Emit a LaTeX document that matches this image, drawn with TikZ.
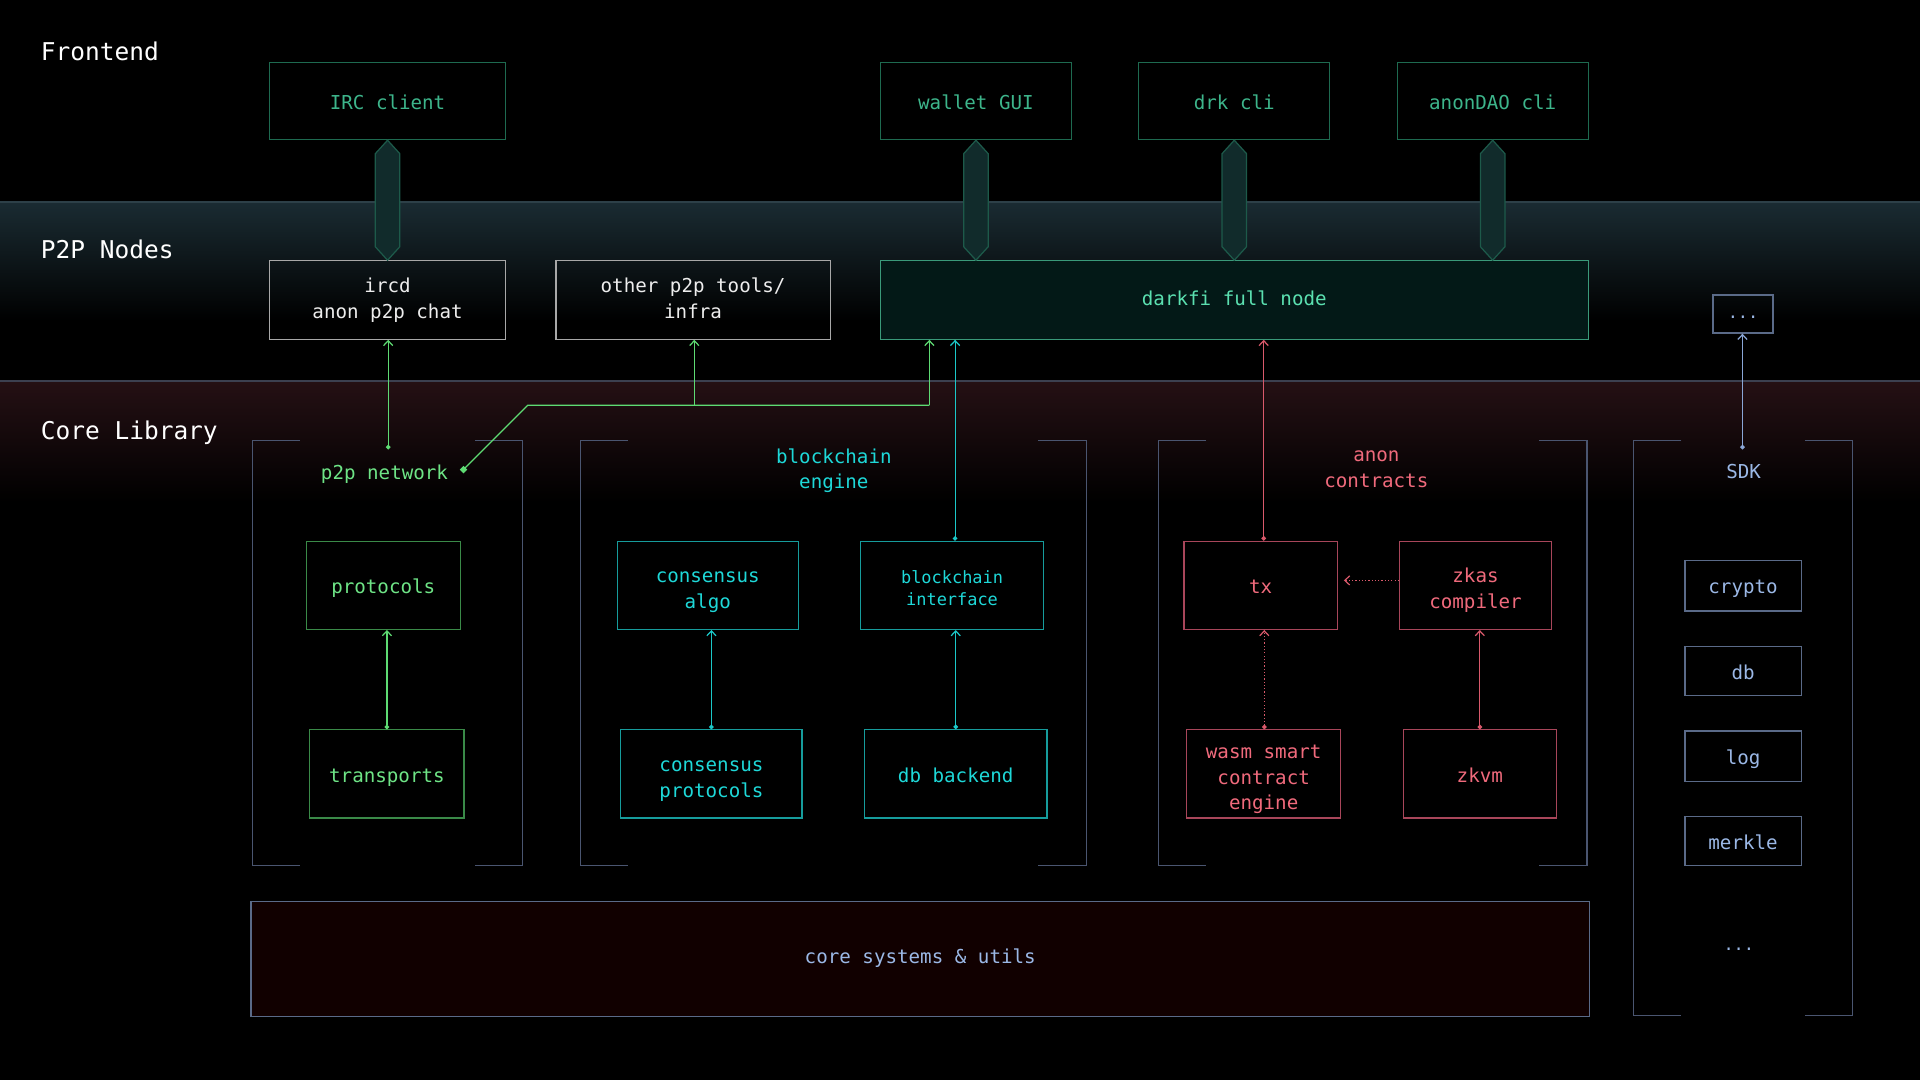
\documentclass[tikz,border=0pt]{standalone}
\usepackage{fontspec}
\setmainfont{DejaVu Sans Mono}
\usetikzlibrary{arrows.meta,calc}
\definecolor{feB}{HTML}{1E6A50}
\definecolor{feT}{HTML}{3DB58B}
\definecolor{grayB}{HTML}{A8A8A8}
\definecolor{whT}{HTML}{EDEDED}
\definecolor{dfB}{HTML}{3A9A7A}
\definecolor{dfF}{HTML}{031917}
\definecolor{dfT}{HTML}{5BE0B0}
\definecolor{gB}{HTML}{3A8A48}
\definecolor{gT}{HTML}{6EE486}
\definecolor{gL}{HTML}{5EDB73}
\definecolor{cB}{HTML}{169C9C}
\definecolor{cT}{HTML}{1ED8D8}
\definecolor{cL}{HTML}{1BC8C8}
\definecolor{rB}{HTML}{A8465A}
\definecolor{rT}{HTML}{F06A7C}
\definecolor{rL}{HTML}{D9596B}
\definecolor{bB}{HTML}{5A6A88}
\definecolor{bT}{HTML}{9BB8E6}
\definecolor{bL}{HTML}{8AA6D6}
\definecolor{frameC}{HTML}{4A5570}
\definecolor{hexF}{HTML}{112B2B}
\definecolor{hexB}{HTML}{1D5A4A}
\definecolor{coreF}{HTML}{110000}
\definecolor{bandA}{HTML}{1A2B32}
\definecolor{bandAL}{HTML}{2D4048}
\definecolor{bandB}{HTML}{251014}
\definecolor{bandBL}{HTML}{3C4050}
\newcommand\grp[4]{%
  \draw[frame] (#1+39,#2) -- (#1,#2) -- (#1,#4) -- (#1+39,#4);
  \draw[frame] (#3-39,#2) -- (#3,#2) -- (#3,#4) -- (#3-39,#4);}
\newcommand\hexconn[2]{%
  \filldraw[hexst] (#1.south) -- ++(10,11) -- ($(#1.south |- #2.north)+(10,-11)$) -- (#1.south |- #2.north) -- ++(-10,-11) -- ($(#1.south)+(-10,11)$) -- cycle;}
\newcommand\topfrac{0.95}
\newcommand\mtop[1]{\rule{0pt}{#1\baselineskip}}
\begin{document}
\begin{tikzpicture}[x=0.6pt,y=-0.6pt,
  wd/.style={minimum width=#1*0.6pt},
  ht/.style={minimum height=#1*0.6pt},
  tf/.code={\def\topfrac{#1}},
  struts/.style={execute at begin node={\rule{0pt}{\topfrac\baselineskip}}, execute at end node=\strut},
  base/.style={draw, line width=0.6pt, inner sep=0pt, align=center, struts,
    font=\fontsize{9.4}{12.6}\selectfont},
  small/.style={font=\fontsize{8.3}{10.8}\selectfont},
  fe/.style={base, draw=feB, text=feT},
  pn/.style={base, draw=grayB, text=whT},
  dfs/.style={base, draw=dfB, fill=dfF, text=dfT},
  gbox/.style={base, draw=gB, text=gT},
  cbox/.style={base, draw=cB, text=cT},
  rbox/.style={base, draw=rB, text=rT},
  bbox/.style={base, draw=bB, text=bT},
  lab/.style={font=\fontsize{9.4}{12.6}\selectfont, align=center, inner sep=0pt, struts},
  ttl/.style={font=\fontsize{12}{14}\selectfont, text=white, anchor=west, inner sep=0pt},
  frame/.style={draw=frameC, line width=0.6pt},
  conn/.style={line width=0.6pt, {Circle[length=2.2pt]}-{Straight Barb[length=2.4pt,width=4.5pt]}},
  tip/.style={line width=0.6pt, -{Straight Barb[length=2.4pt,width=4.5pt]}},
  hexst/.style={fill=hexF, draw=hexB, line width=0.6pt}]
\useasboundingbox (0,0) rectangle (1568,882);
\fill[black] (0,0) rectangle (1568,882);
% bands
\shade[top color=bandA, bottom color=black] (0,165) rectangle (1568,262);
\draw[bandAL, line width=1pt] (0,165) -- (1568,165);
\shade[top color=bandB, bottom color=black] (0,311) rectangle (1568,410);
\draw[bandBL, line width=1pt] (0,311) -- (1568,311);
% titles
\node[ttl] (tFe) at (33,42) {Frontend};
\node[ttl] (tP2P) at (33,204) {P2P Nodes};
\node[ttl] (tCore) at (33,353) {Core Library};
% frontend boxes
\node[fe, wd=193, ht=63] (irc) at (316.5,82.5) {IRC client};
\node[fe, wd=156, ht=63] (wal) at (797,82.5) {wallet GUI};
\node[fe, wd=156, ht=63] (drk) at (1008,82.5) {drk cli};
\node[fe, wd=156, ht=63] (dao) at (1219,82.5) {anonDAO cli};
% p2p nodes
\node[pn, wd=193, ht=64] (ircd) at (316.5,245) {\mtop{0.75}ircd\\anon p2p chat};
\node[pn, wd=224, ht=64] (oth) at (566,245) {\mtop{0.75}other p2p tools/\\infra};
\node[dfs, tf=0.76, wd=578, ht=64] (dfn) at (1008,245) {darkfi full node};
\node[bbox, small, tf=0.73, wd=49, ht=31] (etc) at (1423.5,256.5) {...};
% hex connectors
\hexconn{irc}{ircd}
\hexconn{wal}{dfn}
\hexconn{drk}{dfn}
\hexconn{dao}{dfn}
% groups
\grp{206}{360}{427}{707}
\grp{474}{360}{887}{707}
\grp{946}{360}{1296}{707}
\grp{1334}{360}{1513}{829}
% group labels
\node[lab, text=gT] (p2pl) at (314,385) {p2p network};
\node[lab, text=cT] (bcl) at (681,382) {\mtop{0.94}blockchain\\engine};
\node[lab, text=rT] (acl) at (1124,382) {\mtop{0.8}anon\\contracts};
\node[lab, text=bT] (sdkl) at (1424,384) {SDK};
% p2p boxes
\node[gbox, wd=126, ht=72] (proto) at (313,478) {protocols};
\node[gbox, wd=126, ht=72] (trans) at (316,632) {transports};
% blockchain boxes
\node[cbox, wd=148, ht=72] (calgo) at (578,478) {\mtop{1.1}consensus\\algo};
\node[cbox, small, wd=149, ht=72] (bint) at (777.5,478) {\mtop{1.1}blockchain\\interface};
\node[cbox, wd=148, ht=72] (cprot) at (581,632) {\mtop{1.1}consensus\\protocols};
\node[cbox, wd=149, ht=72] (dbb) at (780.5,632) {db backend};
% contracts boxes
\node[rbox, wd=125, ht=72] (tx) at (1029.5,478) {tx};
\node[rbox, wd=124, ht=72] (zkas) at (1205,478) {\mtop{1.1}zkas\\compiler};
\node[rbox, wd=126, ht=72] (wasm) at (1032,632) {\mtop{1.1}wasm smart\\contract\\engine};
\node[rbox, wd=125, ht=72] (zkvm) at (1208.5,632) {zkvm};
% sdk boxes
\node[bbox, tf=0.88, wd=95, ht=41] (crypto) at (1423.5,478.5) {crypto};
\node[bbox, wd=95, ht=40] (db) at (1423.5,548) {db};
\node[bbox, wd=95, ht=41] (log) at (1423.5,617.5) {log};
\node[bbox, wd=95, ht=40] (merkle) at (1423.5,687) {merkle};
\node[lab, small, text=bT] (sdkdots) at (1420,770) {...};
% core systems
\node[bbox, tf=0.57, fill=coreF, wd=1093, ht=94] (core) at (751.5,783) {core systems \& utils};
% connectors
\coordinate (pdot) at (317,367);
\coordinate (sq) at (377,385);
\coordinate (bend) at (431,331);
\coordinate (j1) at (567,331);
\coordinate (j2) at (759,331);
\coordinate (sdot) at (1423,367);
\draw[conn, gL] (pdot) -- (pdot |- ircd.south);
\draw[gL, line width=0.6pt, {Square[length=2.6pt]}-] (sq) -- (bend) -- (j2);
\draw[tip, gL] (j1) -- (j1 |- oth.south);
\draw[tip, gL] (j2) -- (j2 |- dfn.south);
\draw[conn, gL] (trans.north) -- (trans.north |- proto.south);
\draw[conn, cL] (cprot.north) -- (cprot.north |- calgo.south);
\draw[conn, cL] (dbb.north) -- (dbb.north |- bint.south);
\draw[conn, cL] ($(bint.north)+(2.5,0)$) -- ($(bint.north |- dfn.south)+(2.5,0)$);
\draw[conn, rL] ($(tx.north)+(2.5,0)$) -- ($(tx.north |- dfn.south)+(2.5,0)$);
\draw[tip, rL, densely dotted] ($(zkas.west)+(0,-4)$) -- ($(tx.east)+(5,-4)$);
\draw[conn, rL, densely dotted] ($(wasm.north)+(0.5,0)$) -- ($(wasm.north |- tx.south)+(0.5,0)$);
\draw[conn, rL] (zkvm.north) -- (zkvm.north |- zkas.south);
\draw[conn, bL] (sdot) -- (sdot |- etc.south);
\end{tikzpicture}
\end{document}
